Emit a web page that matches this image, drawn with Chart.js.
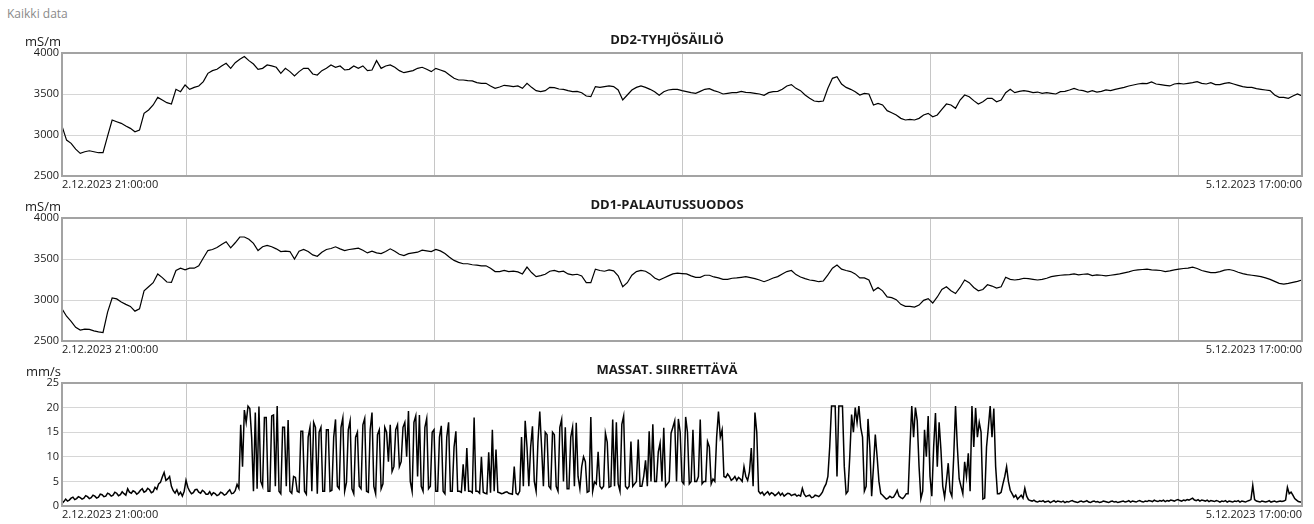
<!DOCTYPE html>
<html>
<head>
<meta charset="utf-8">
<script src="https://cdn.jsdelivr.net/npm/chart.js@4.4.1/dist/chart.umd.min.js"></script>
<style>
  html, body { margin: 0; padding: 0; background: #fff; }
  body { width: 1314px; height: 524px; position: relative; overflow: hidden; font-family: "Open Sans", sans-serif; }
  #caption { position: absolute; left: 7px; top: 5px; font-size: 12px; color: #8a8a8a; }
  canvas { position: absolute; left: 0; }
</style>
</head>
<body>
<div id="caption">Kaikki data</div>
<canvas id="c1" width="1314" height="165" style="top:27px"></canvas>
<canvas id="c2" width="1314" height="165" style="top:192px"></canvas>
<canvas id="c3" width="1314" height="165" style="top:357px"></canvas>
<script>
// time axis: hours from 2.12.2023 21:00:00 to 5.12.2023 17:00:00
var spanHours = 68;
var startLabel = "2.12.2023 21:00:00";
var endLabel = "5.12.2023 17:00:00";
var xGridHours = [0, 6.8, 20.4, 34, 47.6, 61.2, 68];

// DD2-TYHJÖSÄILIÖ, mS/m, one value every 15 min
var dd2Step = 0.25;
var dd2Values = [
  3109,2938,2898,2828,2776,2796,2808,2796,2784,2784,2987,3183,3162,3142,3109,3081,3040,3060,3264,3305,
  3366,3459,3427,3394,3378,3557,3528,3610,3557,3581,3598,3651,3752,3785,3801,3842,3874,3813,3882,3923,
  3956,3907,3866,3801,3813,3854,3842,3826,3752,3813,3773,3720,3773,3813,3813,3744,3732,3785,3813,3854,
  3826,3842,3793,3801,3842,3813,3842,3785,3793,3907,3813,3842,3854,3826,3785,3760,3773,3785,3813,3826,
  3801,3773,3813,3793,3773,3732,3691,3671,3671,3663,3659,3638,3630,
  3630,3598,3569,3585,3606,3598,3590,3598,3569,3630,3581,3541,3528,3541,3581,3577,3561,3557,3541,3528,
  3532,3516,3476,3467,3590,3581,3590,3598,3590,3549,3427,3488,3549,3581,3598,3581,3557,3528,3484,3528,
  3549,3557,3557,3541,3528,3516,3508,3532,3557,3565,3541,3524,3500,3508,3516,3516,3532,3520,3516,3508,
  3500,3484,3516,3528,3532,3557,3598,3614,3569,3541,3488,3447,3415,3406,3415,3569,3691,3712,3622,3581,
  3557,3528,3488,3508,3500,3366,3386,3366,3297,
  3272,3244,3203,3183,3191,3183,3203,3244,3264,3223,3244,3313,3378,3366,3325,3427,3488,3467,3419,3378,
  3406,3447,3447,3406,3427,3516,3557,3516,3532,3541,3532,3516,3524,3508,3516,3508,3500,3528,3532,3549,
  3569,3549,3541,3524,3541,3524,3532,3549,3541,3557,3569,3581,3598,3610,3622,3630,3626,3647,3622,3614,
  3606,3598,3622,3630,3622,3630,3638,3651,3630,3622,3638,3614,3614,3630,3638,3622,3606,3590,3581,3581,
  3565,3557,3549,3541,3488,3459,3459,3447,3476,3500,3476
];

// DD1-PALAUTUSSUODOS, mS/m, one value every 15 min
var dd1Step = 0.25;
var dd1Values = [
  2893,2802,2740,2666,2633,2645,2641,2624,2612,2604,2852,3025,3013,2975,2947,2922,2864,2893,3112,3161,
  3211,3318,3273,3219,3215,3360,3388,3368,3388,3388,3417,3512,3603,3616,3640,3678,3711,3636,3698,3768,
  3768,3740,3690,3603,3649,3665,3649,3624,3591,3595,3591,3500,3595,3616,3591,3550,3533,3583,3616,3628,
  3649,3624,3603,3616,3624,3632,3607,3574,3595,3574,3566,3591,3624,3595,3558,3541,3566,3574,3583,3607,
  3599,3591,3616,3599,3566,3521,3483,3459,3442,3442,3430,3426,3417,
  3417,3388,3347,3347,3360,3347,3351,3343,3318,3401,3335,3285,3298,3314,3351,3360,3343,3351,3318,3306,
  3314,3294,3211,3211,3376,3360,3351,3368,3355,3294,3161,3211,3302,3347,3360,3351,3318,3269,3244,3269,
  3294,3318,3327,3322,3318,3294,3277,3277,3302,3302,3281,3269,3252,3252,3265,3269,3277,3285,3273,3260,
  3244,3223,3244,3269,3285,3318,3347,3360,3310,3281,3260,3244,3236,3223,3232,3306,3388,3426,3376,3360,
  3347,3318,3269,3269,3244,3112,3153,3112,3037,
  3029,3004,2947,2922,2922,2914,2938,2996,3017,2963,3037,3128,3161,3112,3079,3153,3244,3211,3153,3112,
  3128,3186,3170,3145,3161,3277,3252,3244,3252,3265,3260,3252,3244,3252,3265,3285,3294,3302,3306,3310,
  3318,3306,3314,3318,3298,3306,3302,3294,3302,3310,3318,3331,3343,3360,3368,3372,3376,3368,3364,3360,
  3347,3355,3368,3376,3384,3388,3401,3384,3360,3347,3335,3335,3347,3364,3372,3360,3339,3322,3310,3302,
  3294,3285,3269,3252,3227,3203,3194,3203,3215,3227,3244
];

// MASSAT. SIIRRETTÄVÄ, mm/s, one value every 6 min
var massatStep = 0.1;
var massatValues = [
  0.5,0.9,1.4,1.0,1.2,1.6,1.8,1.3,1.5,1.9,1.7,1.4,1.6,2.1,1.9,1.5,1.7,2.2,2.0,1.6,
  1.8,2.4,2.3,1.9,2.0,2.6,2.4,2.0,2.2,2.8,2.6,2.1,2.3,2.9,2.5,2.2,3.5,2.8,2.6,3.1,
  2.9,2.4,2.7,3.2,3.5,2.8,3.0,3.6,3.3,2.7,2.9,3.8,3.4,4.5,4.8,5.9,6.8,5.2,5.5,6.0,
  4.0,3.1,2.6,3.3,2.3,2.8,2.0,3.0,5.2,3.8,3.0,2.5,2.7,3.3,3.4,2.8,2.6,3.2,2.9,2.4,
  2.4,2.9,2.2,2.7,2.5,2.1,2.3,2.8,2.6,2.2,2.4,2.9,3.3,2.5,2.6,3.1,4.4,3.6,
  16.5,8,19.5,17,20.3,19.8,14,3,19,3.5,20.2,5,4,18,18,3,3,18.3,18.5,4,
  20.3,3,2.5,16,16,4,17.5,3,2.6,6,5.8,3,2.8,15.2,15.2,3,2.4,14,16,3,
  17,16,2.5,15,16,3,3,15.5,15.5,3,
  3.2,14,17.6,4,3.5,16,17.9,3,4.8,15.5,17.3,3.5,2.5,14,15,4,3.5,16.5,17.8,3,
  2.8,15.5,19,4,2.5,14.5,15.5,3.5,4.5,16,15,9,16.5,7,8,15.5,16.5,8,9,16,
  17,10,19.3,5,3,17,18.3,6,18.5,4,3,16,17.8,3.5,4,15,15.5,3,3,14,
  16.3,3,2.5,14,17,3,3,12,15.2,3,3,2.8,8.5,3,11.8,3,3,2.7,18,3,
  3,2.6,10,2.8,2.6,2.5,10.9,2.7,15.5,3,11.5,2.8,2.7,2.5,2.6,2.8,2.9,2.6,
  2.5,2.4,8,2.6,2.3,3,14,4,17.3,12,4,12,16.2,5,3,13,19.2,12,4,15,
  14.5,4,3.5,15,14.5,4,3,16,17.6,5,16,3.5,3.5,14,16,4,16.9,6,3.5,8,
  10,9,2.8,3,18.1,3,4.9,4.5,11,4,
  3.5,4,14.8,13,3.8,4,17.6,4,17,4.5,3,16.6,18.3,4,3.5,4,13.1,4,4.5,5,
  13.5,4,4,6,9.3,4,15.2,5,16.6,5,5,11,12.8,5,15.9,4,4.5,5,14.8,16,
  17.3,5,17.7,15,5,4.5,18.1,15,4.5,5,15.5,5,5,6,17.6,4.5,5,5,13.1,12,
  4.5,5.5,5,14,19.2,14,15.5,6,5.8,6.5,6,5.2,5.5,6,5.2,5.8,5.5,5,8,6,
  5.2,7,11.8,4,19,15,3,
  2.5,2.8,2.2,2.6,2.9,2.3,2.7,2.5,2.1,2.4,2.8,2.2,2.6,2.0,2.3,2.6,2.5,2.1,2.3,2.4,
  2.0,2.2,2.0,3.6,2.4,1.9,2.1,2.2,1.7,1.8,2.2,2.1,1.9,2.3,2.8,3.8,4.5,
  6,12,20.3,20.3,20.3,6,20.3,20.3,20.3,8,2.5,3,10,18.6,15,20,17,20.3,16,14,
  3,4,17.7,12,
  2,8,14.5,10,5,2.5,2.2,1.8,1.4,1.6,2,1.7,1.8,2.4,3.2,2,1.7,1.5,1.9,
  2.5,2.5,12,20.3,14,20,17.3,8,1.5,3,15.5,10,18.3,6,2,12,18.9,8,17,11.4,
  4,1.8,5,8.7,3,2,10,20.3,12,5.5,4,2.5,9,6,10.7,3,20.3,12,19.9,14,
  17,15,1.4,1.6,12,16,20.3,14,19.8,8,2.5,2.5,
  2.8,4.5,6,8,5,3.2,2.5,1.8,2.2,1.4,1.8,2.2,1.6,3.6,2,1.3,1.1,1.0,1.2,0.9,
  0.8,1.0,0.9,1.1,0.8,0.9,1.0,0.7,0.9,1.1,0.8,1.0,0.9,0.8,1.0,0.7,0.9,0.8,1.0,1.1,
  0.9,0.8,0.7,0.9,1.0,0.8,0.9,1.1,0.8,0.7,0.9,1.0,0.8,0.9,0.7,0.8,1.0,0.9,0.8,0.7,
  0.9,1.0,0.8,0.9,0.7,0.8,0.9,1.0,0.8,0.9,1.1,0.8,1.0,0.9,0.8,1.0,1.1,0.9,0.8,1.0,
  0.9,1.1,1.0,0.9,1.2,1.0,0.9,1.1,1.0,1.2,0.9,1.1,1.0,1.2,1.1,1.0,1.2,1.3,1.1,1.0,
  1.2,1.1,1.3,1.2,1.4,1.6,1.2,1.1,1.3,1.0,1.2,1.1,1.0,1.2,0.9,1.1,1.0,0.9,1.1,1.0,
  0.8,1.0,0.9,1.1,0.8,1.0,0.9,0.8,1.0,0.9,1.1,0.8,1.0,0.9,0.8,1.0,1.1,1.3,4.2,1.3,
  1.0,0.9,0.8,1.0,0.9,0.8,0.9,1.1,0.8,0.9,1.0,0.8,0.9,1.0,0.9,1.0,1.2,3.8,2.5,2.8,
  2.2,1.5,1.2,0.9,0.8,0.8
];

var condTicks = [2500, 3000, 3500, 4000];
var speedTicks = [0, 5, 10, 15, 20, 25];

Chart.defaults.font.family = '"Open Sans", sans-serif';
Chart.defaults.color = '#1a1a1a';

// frame around the plot, panel title and unit
var framePlugin = {
  id: 'frame',
  afterDraw: function(chart, args, opts) {
    var ctx = chart.ctx, a = chart.chartArea;
    ctx.save();
    ctx.strokeStyle = '#a3a3a3';
    ctx.lineWidth = 2;
    ctx.strokeRect(a.left, a.top, a.right - a.left, a.bottom - a.top);
    ctx.fillStyle = '#1a1a1a';
    ctx.textBaseline = 'middle';
    ctx.font = 'bold 13px "Open Sans"';
    ctx.textAlign = 'center';
    ctx.fillText(opts.title, 667, 13);
    ctx.font = '13px "Open Sans"';
    ctx.textAlign = 'right';
    ctx.fillText(opts.unit, 61, 15);
    ctx.restore();
  }
};

function toPoints(values, step) {
  var pts = [];
  for (var i = 0; i < values.length; i++) {
    pts.push({ x: i * step, y: values[i] });
  }
  return pts;
}

function makePanel(id, title, unit, values, step, yMin, yMax, yTicks, lineWidth) {
  var ctx = document.getElementById(id).getContext('2d');
  return new Chart(ctx, {
    type: 'line',
    data: {
      datasets: [{
        data: toPoints(values, step),
        borderColor: '#000',
        borderWidth: lineWidth,
        pointRadius: 0,
        tension: 0,
        fill: false
      }]
    },
    options: {
      responsive: false,
      animation: false,
      devicePixelRatio: 1,
      layout: { padding: { top: 26, right: 12, left: 0, bottom: 0 } },
      plugins: {
        legend: { display: false },
        tooltip: { enabled: false },
        frame: { title: title, unit: unit }
      },
      scales: {
        x: {
          type: 'linear',
          min: 0,
          max: spanHours,
          afterBuildTicks: function(scale) {
            scale.ticks = xGridHours.map(function(v) { return { value: v }; });
          },
          afterFit: function(scale) { scale.height = 16; },
          grid: {
            drawTicks: false,
            color: function(c) {
              var v = c.tick ? c.tick.value : 0;
              return (v === 0 || v === spanHours) ? 'rgba(0,0,0,0)' : '#c6c6c6';
            }
          },
          border: { display: false },
          ticks: {
            autoSkip: false,
            maxRotation: 0,
            align: 'inner',
            padding: 2,
            font: { size: 11 },
            color: '#1a1a1a',
            callback: function(v) {
              if (v === 0) return startLabel;
              if (v === spanHours) return endLabel;
              return '';
            }
          }
        },
        y: {
          min: yMin,
          max: yMax,
          afterBuildTicks: function(scale) {
            scale.ticks = yTicks.map(function(v) { return { value: v }; });
          },
          afterFit: function(scale) { scale.width = 62; },
          grid: {
            drawTicks: false,
            color: function(c) {
              var v = c.tick ? c.tick.value : yMin;
              return (v === yMin || v === yMax) ? 'rgba(0,0,0,0)' : '#d6d6d6';
            }
          },
          border: { display: false },
          ticks: {
            padding: 3,
            font: { size: 11 },
            color: '#1a1a1a',
            callback: function(v) { return String(v); }
          }
        }
      }
    },
    plugins: [framePlugin]
  });
}

makePanel('c1', 'DD2-TYHJÖSÄILIÖ', 'mS/m', dd2Values, dd2Step, 2500, 4000, condTicks, 1.2);
makePanel('c2', 'DD1-PALAUTUSSUODOS', 'mS/m', dd1Values, dd1Step, 2500, 4000, condTicks, 1.2);
makePanel('c3', 'MASSAT. SIIRRETTÄVÄ', 'mm/s', massatValues, massatStep, 0, 25, speedTicks, 1.5);
</script>
</body>
</html>
